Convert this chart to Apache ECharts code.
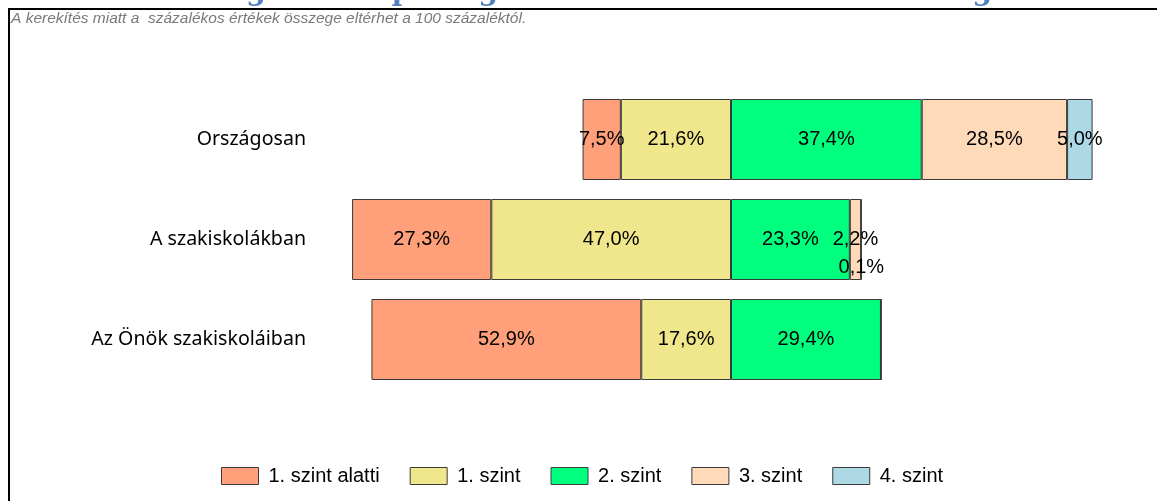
<!DOCTYPE html>
<html>
<head>
<meta charset="utf-8">
<script src="https://cdn.jsdelivr.net/npm/echarts@6/dist/echarts.min.js"></script>
<style>
  html, body { margin: 0; padding: 0; background: #fff; }
  #chart { width: 1157px; height: 501px; }
</style>
</head>
<body>
<div id="chart"></div>
<script>
// kategóriák (felülről lefelé)
const categories = ['Országosan', 'A szakiskolákban', 'Az Önök szakiskoláiban'];
// képességszintek szerinti százalékok
const below1 = [7.5, 27.3, 52.9];
const level1 = [21.6, 47.0, 17.6];
const level2 = [37.4, 23.3, 29.4];
const level3 = [28.5, 2.2, 0];
const level4 = [5.0, 0.1, 0];
const legendNames = ['1. szint alatti', '1. szint', '2. szint', '3. szint', '4. szint'];
const colors = ['#FFA07A', '#F0E68C', '#00FF7F', '#FFDAB9', '#ADD8E6'];

const myChart = echarts.init(document.getElementById('chart'));

function fmt(p) {
  const v = Math.abs(p.value);
  if (!v) return '';
  return v.toFixed(1).replace('.', ',') + '%';
}

function makeSeries(name, values, color, sign) {
  return {
    name: name,
    type: 'bar',
    stack: 'total',
    barWidth: 81,
    itemStyle: { color: color, borderColor: '#3a3a3a', borderWidth: 1 },
    label: {
      show: true,
      position: 'inside',
      color: '#000',
      fontFamily: 'Liberation Sans, Arial, sans-serif',
      fontSize: 20,
      formatter: fmt
    },
    emphasis: { disabled: true },
    data: values.map(function (v) {
      // nagyon kicsi érték címkéje a sáv alá kerül
      if (v > 0 && v < 1) {
        return { value: sign * v, label: { offset: [0, 28] } };
      }
      return sign * v;
    })
  };
}

const option = {
  animation: false,
  color: colors,
  grid: { left: 323, width: 816, top: 89.5, height: 300 },
  xAxis: {
    type: 'value',
    min: -80,
    max: 80,
    show: false
  },
  yAxis: {
    type: 'category',
    inverse: true,
    data: categories,
    axisLine: { show: false, onZero: false },
    axisTick: { show: false },
    axisLabel: {
      margin: 17,
      color: '#000',
      fontFamily: 'Noto Sans, sans-serif',
      fontSize: 19.6
    }
  },
  legend: {
    data: legendNames,
    bottom: 10,
    left: 216,
    icon: 'rect',
    itemWidth: 37,
    itemHeight: 17,
    itemGap: 30,
    selectedMode: false,
    itemStyle: { borderColor: '#3a3a3a', borderWidth: 1 },
    textStyle: { color: '#000', fontFamily: 'Liberation Sans, Arial, sans-serif', fontSize: 20, padding: [0, 0, 0, 5] }
  },
  graphic: [
    {
      type: 'text',
      left: 0,
      top: -21,
      style: {
        text: 'A tanulók szövegértés képességszintek szerinti százalékos megoszlása',
        fill: '#4F81BD',
        font: 'bold 28px "DejaVu Serif", serif'
      }
    },
    {
      type: 'rect',
      shape: { x: 9, y: 9, width: 1300, height: 700 },
      style: { fill: 'none', stroke: '#000', lineWidth: 2 }
    },
    {
      type: 'text',
      left: 11,
      top: 11,
      style: {
        text: 'A kerekítés miatt a  százalékos értékek összege eltérhet a 100 százaléktól.',
        fill: '#7a7a7a',
        font: 'italic 15.5px "Liberation Sans", Arial, sans-serif'
      }
    }
  ],
  series: [
    makeSeries(legendNames[1], level1, colors[1], -1),
    makeSeries(legendNames[0], below1, colors[0], -1),
    makeSeries(legendNames[2], level2, colors[2], 1),
    makeSeries(legendNames[3], level3, colors[3], 1),
    makeSeries(legendNames[4], level4, colors[4], 1)
  ]
};
myChart.setOption(option);
</script>
</body>
</html>
